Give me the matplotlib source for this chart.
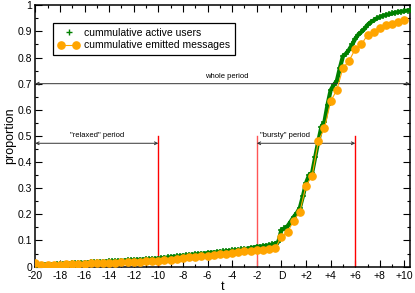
import matplotlib
matplotlib.use('Agg')
import matplotlib.pyplot as plt
from matplotlib.lines import Line2D
from matplotlib.legend_handler import HandlerLine2D
from matplotlib.ticker import MultipleLocator
import numpy as np

plt.rcParams['font.family'] = ['Liberation Sans', 'DejaVu Sans']

# cumulative active users, sampled every 0.25 from t=-20 to t=10.5
t_users = np.arange(-20, 10.51, 0.25)
users = [0.004, 0.005, 0.006, 0.006, 0.007, 0.007, 0.008, 0.009, 0.010,
         0.010, 0.011, 0.011, 0.012, 0.013, 0.013, 0.014, 0.015,
         0.015, 0.016, 0.016, 0.017, 0.018, 0.018, 0.019, 0.020,
         0.020, 0.021, 0.022, 0.022, 0.023, 0.024, 0.024, 0.025,
         0.026, 0.026, 0.027, 0.028, 0.028, 0.029, 0.030, 0.031,
         0.032, 0.034, 0.035, 0.036, 0.038, 0.039, 0.040, 0.042,
         0.043, 0.044, 0.046, 0.047, 0.048, 0.049, 0.050, 0.052,
         0.053, 0.054, 0.055, 0.057, 0.058, 0.059, 0.060, 0.062,
         0.063, 0.064, 0.066, 0.067, 0.069, 0.071, 0.073, 0.076,
         0.077, 0.078, 0.080, 0.082, 0.085, 0.088, 0.095, 0.140,
         0.147, 0.155, 0.172, 0.190, 0.205, 0.225, 0.270, 0.320,
         0.350, 0.360, 0.420, 0.480, 0.535, 0.555, 0.620, 0.675,
         0.695, 0.710, 0.760, 0.805, 0.815, 0.830, 0.850, 0.872,
         0.888, 0.898, 0.910, 0.925, 0.935, 0.942, 0.950, 0.955,
         0.960, 0.963, 0.966, 0.969, 0.972, 0.974, 0.976, 0.978, 0.980, 0.981]

# cumulative emitted messages, every 0.5 from t=-20 to t=10
t_msgs = np.arange(-20, 10.01, 0.5)
msgs = [0.015,
        0.005, 0.006, 0.007, 0.008, 0.009, 0.010, 0.010, 0.011, 0.012, 0.013,
        0.014, 0.015, 0.015, 0.016, 0.017, 0.018, 0.019, 0.020, 0.021, 0.022,
        0.025, 0.027, 0.030, 0.032, 0.035, 0.037, 0.040, 0.042,
        0.045, 0.047, 0.050, 0.052, 0.055, 0.058, 0.060, 0.063,
        0.065, 0.067, 0.070, 0.115, 0.133, 0.176, 0.210, 0.310,
        0.348, 0.480, 0.530, 0.632, 0.676, 0.760, 0.787, 0.833,
        0.850, 0.887, 0.896, 0.914, 0.923, 0.930, 0.937, 0.944]

xticks = [-20, -18, -16, -14, -12, -10, -8, -6, -4, -2, 0, 2, 4, 6, 8, 10]
xlabels = ['-20', '-18', '-16', '-14', '-12', '-10', '-8', '-6', '-4', '-2',
           'D', '+2', '+4', '+6', '+8', '+10']
yticks = [0, 0.1, 0.2, 0.3, 0.4, 0.5, 0.6, 0.7, 0.8, 0.9, 1]
ylabels = ['0', '0.1', '0.2', '0.3', '0.4', '0.5', '0.6', '0.7', '0.8', '0.9', '1']

fig = plt.figure(figsize=(4.15, 2.93), dpi=100)
ax = fig.add_axes([0.085, 0.09, 0.903, 0.892])

green = '#008000'
orange = '#FFA500'

ax.plot(t_users, users, '-', color=green, lw=3, zorder=3)
ax.plot(t_users, users, '+', color=green, ms=4.5, mew=1.1, zorder=3)
ax.plot(t_msgs, msgs, '-o', color=orange, lw=0.8, ms=5.2, mec=orange, zorder=4)

# periods
ax.axvline(-10, ymin=0, ymax=0.5, color='red', lw=1, zorder=2)
ax.axvline(-2, ymin=0, ymax=0.5, color='#ff5555', lw=1, zorder=2)
ax.axvline(6, ymin=0, ymax=0.5, color='red', lw=1, zorder=2)

arr = dict(arrowstyle='<->', color='#333333', lw=0.7, mutation_scale=5,
           shrinkA=0, shrinkB=0)
ax.annotate('', xy=(-20, 0.7), xytext=(10.45, 0.7), arrowprops=arr)
ax.annotate('', xy=(-20, 0.472), xytext=(-10, 0.472), arrowprops=arr)
ax.annotate('', xy=(-2, 0.472), xytext=(6, 0.472), arrowprops=arr)
ax.text(-4.4, 0.715, 'whole period', fontsize=5.5, ha='center', va='bottom')
ax.text(-15, 0.488, '"relaxed" period', fontsize=5.5, ha='center', va='bottom')
ax.text(-1.7, 0.488, '"bursty" period', fontsize=5.5, ha='left', va='bottom')

ax.set_xlim(-20, 10.45)
ax.set_ylim(0, 1)
ax.set_xticks(xticks)
ax.set_xticklabels(xlabels)
ax.set_yticks(yticks)
ax.set_yticklabels(ylabels)
ax.xaxis.set_minor_locator(MultipleLocator(1))
ax.yaxis.set_minor_locator(MultipleLocator(0.05))
ax.tick_params(which='both', direction='in', top=True, right=True,
               labelsize=7.5, width=0.8)
ax.tick_params(axis='x', pad=3)
ax.tick_params(axis='y', pad=2)
ax.tick_params(which='major', length=5)
ax.tick_params(which='minor', length=2.5)
for s in ax.spines.values():
    s.set_linewidth(1.1)

ax.set_xlabel('t', fontsize=9, labelpad=0)
ax.set_ylabel('proportion', fontsize=9, labelpad=1)

h_users = Line2D([], [], ls='none', marker='+', color=green, ms=4, mew=1.0)
h_msgs = Line2D([], [], ls='-', marker='o', color=orange, lw=0.8, ms=5.2)
leg = ax.legend([h_users, h_msgs],
                ['cummulative active users', 'cummulative emitted messages'],
                loc='upper left', bbox_to_anchor=(0.047, 0.932),
                borderaxespad=0, fontsize=7.5, fancybox=False,
                edgecolor='black', framealpha=1, handlelength=2.1,
                handletextpad=0.45, labelspacing=0.25, borderpad=0.45,
                handler_map={h_users: HandlerLine2D(numpoints=1),
                             h_msgs: HandlerLine2D(numpoints=2)})
leg.get_frame().set_linewidth(0.9)

fig.savefig('out.png', dpi=100)
